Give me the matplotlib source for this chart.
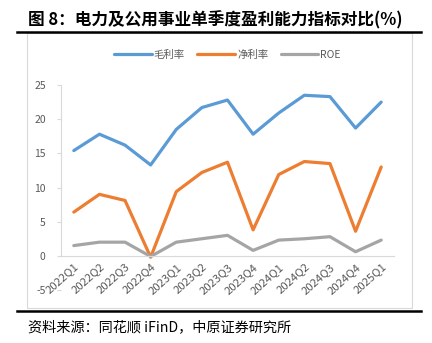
import matplotlib
matplotlib.use("Agg")
import matplotlib.pyplot as plt
from matplotlib.lines import Line2D
from matplotlib.patches import Rectangle

plt.rcParams['font.family'] = ['Noto Sans CJK SC', 'DejaVu Sans']
plt.rcParams['axes.unicode_minus'] = False

quarters = ["2022Q1", "2022Q2", "2022Q3", "2022Q4",
            "2023Q1", "2023Q2", "2023Q3", "2023Q4",
            "2024Q1", "2024Q2", "2024Q3", "2024Q4", "2025Q1"]
gross_margin = [15.4, 17.8, 16.2, 13.3, 18.5, 21.7, 22.8, 17.8, 20.9, 23.5, 23.3, 18.7, 22.5]
net_margin = [6.4, 9.0, 8.1, -0.2, 9.4, 12.2, 13.7, 3.8, 11.9, 13.8, 13.5, 3.6, 13.0]
roe = [1.5, 2.0, 2.0, -0.1, 2.0, 2.5, 3.0, 0.8, 2.3, 2.5, 2.8, 0.6, 2.3]

series_names = ["毛利率", "净利率", "ROE"]
colors = ["#5B9BD5", "#ED7D31", "#A5A5A5"]
tick_grey = "#595959"
axis_grey = "#D9D9D9"

W, H = 432, 343
fig = plt.figure(figsize=(W / 100, H / 100), dpi=100)

# title and frame lines
fig.text(28 / W, 1 - 20 / H, "图 8：电力及公用事业单季度盈利能力指标对比(%)",
         fontsize=12, fontweight='bold', ha='left', va='center')
fig.add_artist(Line2D([17 / W, 421 / W], [1 - 32 / H, 1 - 32 / H], color='black', lw=1.8))
fig.add_artist(Line2D([17 / W, 421 / W], [1 - 311 / H, 1 - 311 / H], color='black', lw=1.8))
fig.add_artist(Rectangle((27 / W, 1 - 308 / H), 385 / W, 275 / H, fill=False,
                         edgecolor=axis_grey, lw=0.8))
fig.text(28 / W, 1 - 327 / H, "资料来源：同花顺 iFinD，中原证券研究所",
         fontsize=10.2, ha='left', va='center')

ax = fig.add_axes([61 / W, 1 - 290 / H, 333 / W, 205 / H])
x = list(range(len(quarters)))
for vals, name, c in zip([gross_margin, net_margin, roe], series_names, colors):
    ax.plot(x, vals, color=c, lw=2.3, label=name, solid_capstyle='round', solid_joinstyle='round')

ax.set_xlim(-0.5, len(quarters) - 0.5)
ax.set_ylim(-5, 25)
ax.set_yticks([-5, 0, 5, 10, 15, 20, 25])
ax.set_xticks(x)

for s in ['top', 'right']:
    ax.spines[s].set_visible(False)
ax.spines['bottom'].set_position(('data', 0))
ax.spines['bottom'].set_color(axis_grey)
ax.spines['left'].set_color(axis_grey)
ax.spines['left'].set_bounds(0, 25)
ax.tick_params(axis='y', colors=tick_grey, labelsize=7.5, length=3, color=axis_grey, pad=8)
ax.tick_params(axis='x', colors=tick_grey, length=0, pad=4)
ax.set_xticklabels(quarters, rotation=42, ha='right', rotation_mode='anchor', fontsize=8.2)
ax.patch.set_visible(False)

ax.legend(loc='center', bbox_to_anchor=(0.5, (290 - 55) / 205), bbox_transform=ax.transAxes,
          ncol=3, frameon=False, fontsize=7.5, labelcolor=tick_grey,
          handlelength=3.6, handletextpad=0.2, columnspacing=1.2)

fig.savefig("out.png", dpi=100)
